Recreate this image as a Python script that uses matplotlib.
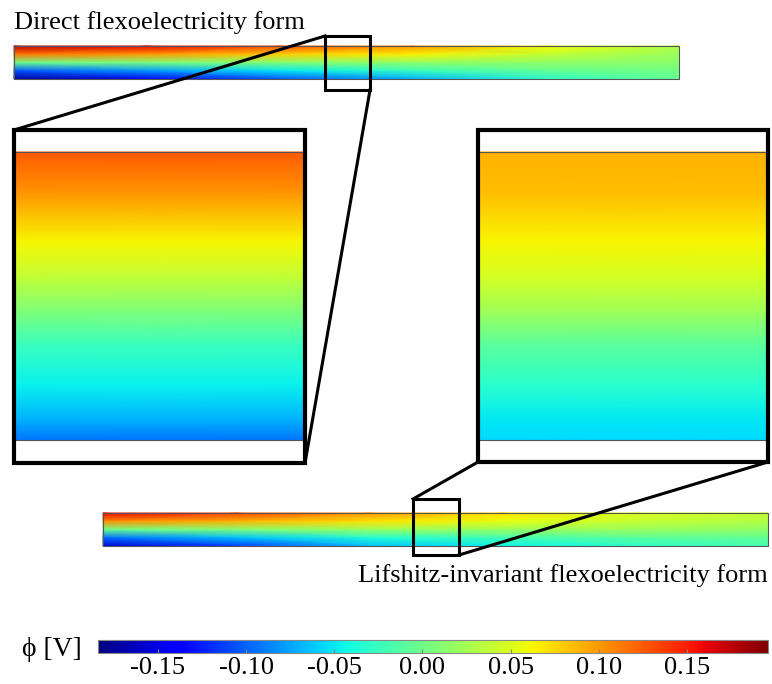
import numpy as np
import matplotlib
matplotlib.use("Agg")
import matplotlib.pyplot as plt
from matplotlib.patches import Rectangle
from matplotlib.colors import Normalize
from matplotlib.cm import ScalarMappable

plt.rcParams['font.family'] = ['Liberation Serif', 'DejaVu Serif']
plt.rcParams['axes.unicode_minus'] = False

# potential phi [V]
# stations along the beam (fraction of length) and across it (top -> bottom)
x_stations = [0.0, 0.2, 0.4, 0.6, 0.8, 1.0]
y_stations = [0.0, 0.25, 0.5, 0.75, 1.0]

# direct flexoelectricity form, one list per station along the beam
direct_phi = [
    [0.175, 0.115, 0.000, -0.105, -0.175],
    [0.160, 0.100, 0.005, -0.080, -0.145],
    [0.130, 0.080, 0.010, -0.050, -0.105],
    [0.100, 0.065, 0.015, -0.025, -0.070],
    [0.060, 0.040, 0.015, -0.005, -0.030],
    [0.030, 0.020, 0.012, 0.003, -0.005],
]
# Lifshitz-invariant form
lifshitz_phi = [
    [0.160, 0.105, 0.000, -0.095, -0.155],
    [0.135, 0.090, 0.010, -0.065, -0.115],
    [0.100, 0.070, 0.020, -0.035, -0.065],
    [0.070, 0.055, 0.020, -0.020, -0.045],
    [0.050, 0.040, 0.020, -0.010, -0.030],
    [0.040, 0.030, 0.015, -0.005, -0.020],
]

# zoomed windows: profile across the thickness (top -> bottom)
zoom_y = [0.0, 0.14, 0.31, 0.44, 0.55, 0.67, 0.81, 0.93, 1.0]
direct_zoom = [0.126, 0.101, 0.063, 0.036, 0.008, -0.024, -0.047, -0.070, -0.093]
lifshitz_zoom = [0.090, 0.085, 0.063, 0.045, 0.023, -0.009, -0.032, -0.050, -0.055]

cbar_ticks = [-0.15, -0.10, -0.05, 0.00, 0.05, 0.10, 0.15]
vmin, vmax = -0.184, 0.196

norm = Normalize(vmin=vmin, vmax=vmax)
cmap = plt.get_cmap('jet')

W, H = 772, 684
fig = plt.figure(figsize=(W / 100, H / 100), dpi=100)
ax = fig.add_axes([0, 0, 1, 1])
ax.set_xlim(0, W)
ax.set_ylim(H, 0)
ax.axis('off')


def draw_field(x0, x1, y0, y1, xs, ys, vals):
    X, Y = np.meshgrid(x0 + np.array(xs) * (x1 - x0), y0 + np.array(ys) * (y1 - y0))
    C = np.array(vals, dtype=float).T
    ax.pcolormesh(X, Y, C, shading='gouraud', cmap=cmap, norm=norm, zorder=1)
    ax.add_patch(Rectangle((x0, y0), x1 - x0, y1 - y0, fill=False,
                           ec='#555555', lw=0.8, zorder=2))


# beams
draw_field(14, 679, 46, 79, x_stations, y_stations, direct_phi)
draw_field(103, 768, 513, 546, x_stations, y_stations, lifshitz_phi)

# insets
draw_field(14, 305, 152, 440, [0, 1], zoom_y, [direct_zoom, direct_zoom])
draw_field(478, 768, 152, 440, [0, 1], zoom_y, [lifshitz_zoom, lifshitz_zoom])

lw_box = 2.2
lw_inset = 3.0
ax.add_patch(Rectangle((325, 36), 45, 54, fill=False, ec='black', lw=lw_box, zorder=4))
ax.add_patch(Rectangle((413, 499), 46, 56, fill=False, ec='black', lw=lw_box, zorder=4))
ax.add_patch(Rectangle((14, 130), 291, 333, fill=False, ec='black', lw=lw_inset, zorder=4))
ax.add_patch(Rectangle((478, 130), 290, 332, fill=False, ec='black', lw=lw_inset, zorder=4))

ax.plot([325, 14], [36, 130], color='black', lw=lw_box, zorder=4)
ax.plot([370, 305], [90, 463], color='black', lw=lw_box, zorder=4)
ax.plot([413, 478], [499, 462], color='black', lw=lw_box, zorder=4)
ax.plot([459, 768], [555, 462], color='black', lw=lw_box, zorder=4)

ax.text(14, 29, "Direct flexoelectricity form", fontsize=19, ha='left', va='baseline')
ax.text(768, 582, "Lifshitz-invariant flexoelectricity form", fontsize=19,
        ha='right', va='baseline')

# colorbar
cax = fig.add_axes([98 / W, 1 - 653 / H, 670 / W, 13 / H])
cb = fig.colorbar(ScalarMappable(norm=norm, cmap=cmap), cax=cax, orientation='horizontal')
cb.set_ticks(cbar_ticks)
cb.set_ticklabels([f"{t:.2f}" for t in cbar_ticks])
cb.outline.set_edgecolor('#888888')
cb.outline.set_linewidth(0.8)
cax.tick_params(axis='x', direction='in', length=3, color='#888888', labelsize=19, pad=3)
fig.text(22 / W, 1 - 650 / H, "ϕ [V]", fontsize=20, ha='left', va='center')

fig.savefig("out.png", dpi=100)
